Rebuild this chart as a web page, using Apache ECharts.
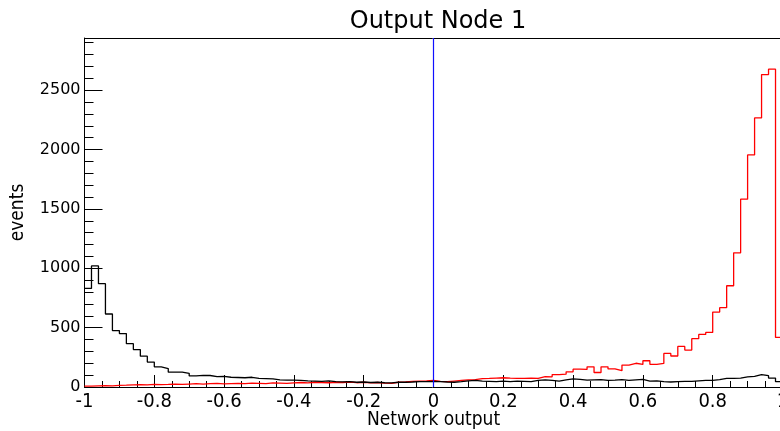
<!DOCTYPE html>
<html>
<head>
<meta charset="utf-8">
<script src="https://cdn.jsdelivr.net/npm/echarts@6/dist/echarts.min.js"></script>
<style>
  html, body { margin: 0; padding: 0; background: #fff; }
  #chart { width: 780px; height: 431px; }
</style>
</head>
<body>
<div id="chart"></div>
<script>
// ---- Data ----
const titleText = "Output Node 1";
const xAxisTitle = "Network output";
const yAxisTitle = "events";
const binMin = -1;
const binWidth = 0.02;
const yMax = 2940;

// background (black) histogram, 100 bins from -1 to 1
const backgroundCounts = [
  830, 1020, 870, 615, 475, 450, 365, 315, 260, 210,
  170, 155, 125, 126, 115, 93, 98, 97, 87, 90,
  82, 80, 78, 82, 72, 70, 68, 60, 58, 58,
  55, 52, 50, 48, 52, 45, 44, 46, 40, 42,
  38, 40, 36, 35, 40, 40, 42, 45, 46, 48,
  45, 42, 40, 45, 52, 55, 50, 48, 45, 50,
  45, 50, 48, 45, 55, 60, 55, 50, 60, 68,
  65, 58, 60, 62, 55, 58, 62, 56, 60, 64,
  50, 52, 45, 42, 45, 48, 48, 52, 55, 55,
  62, 72, 73, 75, 85, 90, 105, 95, 75, 45
];

// signal (red) histogram, 100 bins from -1 to 1
const signalCounts = [
  8, 10, 12, 10, 14, 15, 18, 20, 18, 22,
  20, 22, 25, 22, 25, 28, 25, 28, 30, 26,
  28, 30, 28, 32, 30, 28, 34, 32, 30, 35,
  38, 35, 40, 38, 36, 40, 38, 42, 36, 40,
  35, 38, 32, 30, 40, 42, 48, 50, 52, 55,
  48, 45, 50, 55, 60, 62, 70, 72, 75, 78,
  75, 73, 72, 74, 72, 88, 86, 105, 108, 128,
  150, 148, 170, 122, 170, 152, 137, 185, 200, 190,
  221, 191, 199, 283, 261, 342, 311, 407, 443, 460,
  631, 668, 853, 1130, 1582, 1955, 2267, 2632, 2677, 418
];

// vertical cut line position
const cutValue = 0;

// ---- Build step series from bin contents ----
function histPoints(counts) {
  const pts = [];
  for (let i = 0; i < counts.length; i++) {
    pts.push([+(binMin + i * binWidth).toFixed(4), counts[i]]);
  }
  pts.push([+(binMin + counts.length * binWidth).toFixed(4), counts[counts.length - 1]]);
  return pts;
}

const chart = echarts.init(document.getElementById('chart'), null, { renderer: 'canvas' });

const labelFont = 'DejaVu Sans';
const condFont = 'DejaVu Sans Condensed, DejaVu Sans';
const option = {
  animation: false,
  backgroundColor: '#ffffff',
  title: {
    text: titleText,
    left: 433,
    top: 5,
    textAlign: 'center',
    textStyle: { fontFamily: labelFont, fontSize: 24, fontWeight: 'normal', color: '#000' }
  },
  grid: { left: 84.5, top: 38, width: 698, height: 349, outerBoundsMode: 'none', containLabel: false },
  xAxis: [{
    type: 'value',
    min: -1, max: 1, interval: 0.2,
    name: xAxisTitle,
    nameLocation: 'middle',
    nameGap: 24,
    nameMoveOverlap: false,
    nameTextStyle: { fontFamily: condFont, fontSize: 19, color: '#000', verticalAlign: 'top' },
    axisLine: { show: true, onZero: false, lineStyle: { color: '#000', width: 1 } },
    axisTick: { show: true, inside: true, length: 12, lineStyle: { color: '#000', width: 1 } },
    minorTick: { show: true, splitNumber: 4, length: 6, lineStyle: { color: '#000', width: 1 } },
    axisLabel: { margin: 5, fontFamily: condFont, fontSize: 20, color: '#000', hideOverlap: false },
    splitLine: { show: false }
  }, {
    type: 'value',
    position: 'top',
    min: -1, max: 1,
    axisLine: { show: true, onZero: false, lineStyle: { color: '#000', width: 1 } },
    axisTick: { show: false },
    axisLabel: { show: false },
    splitLine: { show: false }
  }],
  yAxis: {
    type: 'value',
    min: 0, max: yMax, interval: 500,
    name: yAxisTitle,
    nameLocation: 'middle',
    nameGap: 57,
    nameMoveOverlap: false,
    nameTextStyle: { fontFamily: condFont, fontSize: 19, color: '#000' },
    axisLine: { show: true, onZero: false, lineStyle: { color: '#000', width: 1 } },
    axisTick: { show: true, inside: true, length: 18, lineStyle: { color: '#000', width: 1 } },
    minorTick: { show: true, splitNumber: 5, length: 9, lineStyle: { color: '#000', width: 1 } },
    axisLabel: {
      margin: 4, showMaxLabel: false, fontFamily: labelFont, fontSize: 16, color: '#000',
      formatter: function (v) { return String(v); }
    },
    splitLine: { show: false }
  },
  series: [{
    type: 'line',
    name: 'signal',
    step: 'end',
    showSymbol: false,
    data: histPoints(signalCounts),
    lineStyle: { color: '#ff0000', width: 1.3 },
    itemStyle: { color: '#ff0000' },
    z: 3
  }, {
    type: 'line',
    name: 'background',
    step: 'end',
    showSymbol: false,
    data: histPoints(backgroundCounts),
    lineStyle: { color: '#000000', width: 1.3 },
    itemStyle: { color: '#000000' },
    z: 4
  }, {
    type: 'line',
    name: 'cut',
    showSymbol: false,
    silent: true,
    data: [[cutValue, 0], [cutValue, yMax]],
    lineStyle: { color: '#1010ff', width: 1.2 },
    itemStyle: { color: '#1010ff' },
    z: 10
  }]
};
chart.setOption(option);
</script>
</body>
</html>
